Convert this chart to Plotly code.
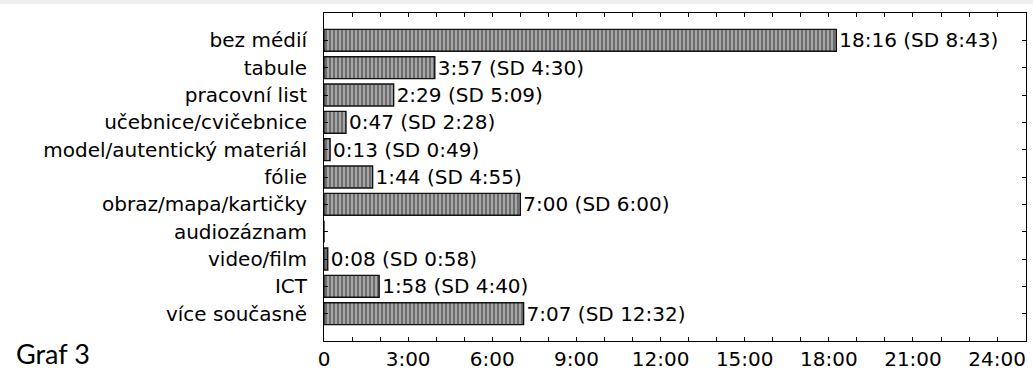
import plotly.graph_objects as go

categories = ["bez médií", "tabule", "pracovní list", "učebnice/cvičebnice",
              "model/autentický materiál", "fólie", "obraz/mapa/kartičky",
              "audiozáznam", "video/film", "ICT", "více současně"]
mean_sec = [1096, 237, 149, 47, 13, 104, 420, 0, 8, 118, 427]
sd_sec = [523, 270, 309, 148, 49, 295, 360, None, 58, 280, 752]
tick_minutes = [0, 3, 6, 9, 12, 15, 18, 21, 24]
tick_labels = ["0", "3:00", "6:00", "9:00", "12:00", "15:00", "18:00", "21:00", "24:00"]


def mmss(s):
    return f"{s // 60}:{s % 60:02d}"


means_min = [s / 60 for s in mean_sec]
texts = ["" if sd is None else f"{mmss(m)} (SD {mmss(sd)})" for m, sd in zip(mean_sec, sd_sec)]

W, H = 1033, 371
L, R, T, B = 324, 7, 13, 30
pw, ph = W - L - R, H - T - B

fig = go.Figure(go.Bar(
    y=categories, x=means_min, orientation="h", width=0.8,
    text=texts, textposition="outside", cliponaxis=False, constraintext="none",
    textfont=dict(family="DejaVu Sans", size=20, color="black"),
    marker=dict(color="#8a8a8a", line=dict(color="#111111", width=1.4),
                pattern=dict(shape="|", size=4, solidity=0.5,
                             fgcolor="#333333", bgcolor="#a6a6a6")),
))

fig.update_layout(
    width=W, height=H, margin=dict(l=L, r=R, t=T, b=B, autoexpand=False),
    paper_bgcolor="white", plot_bgcolor="white", showlegend=False,
    font=dict(family="DejaVu Sans", size=20, color="black"),
    shapes=[dict(type="rect", xref="paper", yref="paper", x0=-L / pw, x1=1 + R / pw,
                 y0=1 + (T - 4) / ph, y1=1 + T / ph, fillcolor="#efefef", line_width=0, layer="below")],
    annotations=[dict(text="Graf 3", xref="paper", yref="paper", x=(14 - L) / pw, y=-(353 - (H - B)) / ph,
                      xanchor="left", yanchor="middle", showarrow=False,
                      font=dict(family="Lato", size=27, color="black"))],
)
fig.update_xaxes(range=[0, 25.03], tickvals=tick_minutes, ticktext=tick_labels, automargin=False,
                 ticks="inside", ticklen=4, tickcolor="black", showgrid=False, zeroline=False,
                 showline=True, linecolor="black", linewidth=1, mirror="ticks",
                 minor=dict(dtick=1, ticks="inside", ticklen=4, tickcolor="black", showgrid=False),
                 tickfont=dict(size=20))
fig.update_yaxes(categoryorder="array", categoryarray=categories, range=[11, -1], automargin=False,
                 ticks="inside", ticklen=4, tickcolor="black", showgrid=False, zeroline=False,
                 showline=True, linecolor="black", linewidth=1, mirror="ticks",
                 ticklabelstandoff=12, tickfont=dict(size=20))

fig.write_html("out.html", config={"displayModeBar": False},
               post_script="document.body.style.margin='0';document.body.style.overflow='hidden';")
